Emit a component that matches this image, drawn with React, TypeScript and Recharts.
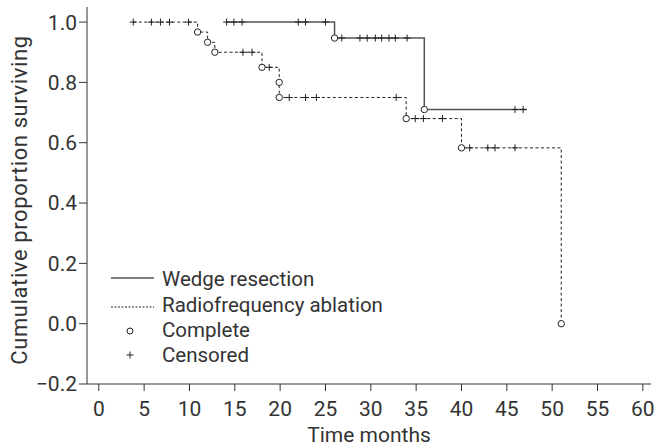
import React from "react";
import {
  ComposedChart,
  Line,
  Scatter,
  XAxis,
  YAxis,
} from "recharts";

// step curves (first point = first observation, then each event)
const wedgeTimes = [14.1, 26, 35.9, 47.2];
const wedgeSurv = [1, 0.947, 0.71, 0.71];
const rfaTimes = [3.8, 10.9, 12, 12.8, 18, 19.9, 19.9, 33.9, 40, 51];
const rfaSurv = [1, 0.967, 0.933, 0.9, 0.85, 0.8, 0.75, 0.68, 0.583, 0];

// completed events (circles)
const eventTimes = [26, 35.9, 10.9, 12, 12.8, 18, 19.9, 19.9, 33.9, 40, 51];
const eventSurv = [0.947, 0.71, 0.967, 0.933, 0.9, 0.85, 0.8, 0.75, 0.68, 0.583, 0];

// censored observations (crosses)
const wedgeCensTimes = [14.1, 14.9, 15.8, 22, 22.8, 25, 26.8, 28.8, 29.6, 30.5, 31.2, 32, 32.7, 34, 45.9, 46.8];
const wedgeCensSurv = [1, 1, 1, 1, 1, 1, 0.947, 0.947, 0.947, 0.947, 0.947, 0.947, 0.947, 0.947, 0.71, 0.71];
const rfaCensTimes = [3.8, 5.8, 6.8, 7.8, 9.9, 15.9, 16.9, 18.8, 21, 22.8, 24, 32.8, 34.9, 35.8, 37.9, 40.9, 42.9, 43.7, 45.9];
const rfaCensSurv = [1, 1, 1, 1, 1, 0.9, 0.9, 0.85, 0.75, 0.75, 0.75, 0.75, 0.68, 0.68, 0.68, 0.583, 0.583, 0.583, 0.583];

const xTicks = [0, 5, 10, 15, 20, 25, 30, 35, 40, 45, 50, 55, 60];
const yTicks = [-0.2, 0, 0.2, 0.4, 0.6, 0.8, 1.0];

const zip = (ts: number[], ss: number[]) => ts.map((t, i) => ({ t, s: ss[i] }));

const wedgeLine = zip(wedgeTimes, wedgeSurv);
const rfaLine = zip(rfaTimes, rfaSurv);
const events = zip(eventTimes, eventSurv);
const censored = [...zip(wedgeCensTimes, wedgeCensSurv), ...zip(rfaCensTimes, rfaCensSurv)];

const FONT = "Roboto, sans-serif";
const TEXT = "#333";

const Cross = (props: any) => {
  const { cx, cy } = props;
  return (
    <path
      d={`M${cx - 3.5},${cy}h7M${cx},${cy - 3.5}v7`}
      stroke="#222"
      strokeWidth={1}
      fill="none"
    />
  );
};

const Ring = (props: any) => {
  const { cx, cy } = props;
  return <circle cx={cx} cy={cy} r={3.2} fill="#fff" stroke="#222" strokeWidth={1} />;
};

const fmtY = (v: number) => (v < 0 ? "\u2212" + Math.abs(v).toFixed(1) : v.toFixed(1));

export default function App() {
  return (
    <div style={{ position: "absolute", left: 0, top: 0, background: "#fff" }}>
      <ComposedChart
        width={656}
        height={447}
        margin={{ top: 7, right: 5, bottom: 0, left: 0 }}
      >
        <XAxis
          dataKey="t"
          type="number"
          domain={[-1.3, 60.9]}
          ticks={xTicks}
          allowDataOverflow
          stroke={TEXT}
          tickSize={7}
          tickMargin={10}
          height={63}
          tick={{ fill: TEXT, fontSize: 21, fontFamily: FONT }}
        />
        <YAxis
          dataKey="s"
          type="number"
          domain={[-0.2, 1.05]}
          ticks={yTicks}
          allowDataOverflow
          tickFormatter={fmtY}
          stroke={TEXT}
          tickSize={8}
          tickMargin={2}
          width={87}
          tick={{ fill: TEXT, fontSize: 21, fontFamily: FONT }}
        />
        <Line
          data={rfaLine}
          dataKey="s"
          type="stepAfter"
          stroke="#222"
          strokeWidth={1}
          strokeDasharray="3 2.5"
          dot={false}
          isAnimationActive={false}
        />
        <Line
          data={wedgeLine}
          dataKey="s"
          type="stepAfter"
          stroke="#555"
          strokeWidth={1.5}
          dot={false}
          isAnimationActive={false}
        />
        <Scatter data={censored} dataKey="s" shape={Cross} isAnimationActive={false} />
        <Scatter data={events} dataKey="s" shape={Ring} isAnimationActive={false} />

        {/* axis titles */}
        <text
          x={369}
          y={442}
          textAnchor="middle"
          fontSize={21}
          fontFamily={FONT}
          fill={TEXT}
        >
          Time months
        </text>
        <text
          x={0}
          y={0}
          transform="translate(27,200) rotate(-90)"
          textAnchor="middle"
          fontSize={22}
          letterSpacing={0.6}
          fontFamily={FONT}
          fill={TEXT}
        >
          Cumulative proportion surviving
        </text>

        {/* legend */}
        <g fontSize={20.5} fontFamily={FONT} fill={TEXT}>
          <line x1={111} x2={154} y1={278} y2={278} stroke="#555" strokeWidth={1.3} />
          <text x={162} y={286}>Wedge resection</text>
          <line x1={111} x2={154} y1={307} y2={307} stroke="#222" strokeWidth={1} strokeDasharray="2 1.5" />
          <text x={162} y={312}>Radiofrequency ablation</text>
          <circle cx={130} cy={331} r={3} fill="#fff" stroke="#222" />
          <text x={162} y={337}>Complete</text>
          <path d="M126.5,355h7M130,351.5v7" stroke="#222" fill="none" />
          <text x={162} y={362}>Censored</text>
        </g>
      </ComposedChart>
    </div>
  );
}
